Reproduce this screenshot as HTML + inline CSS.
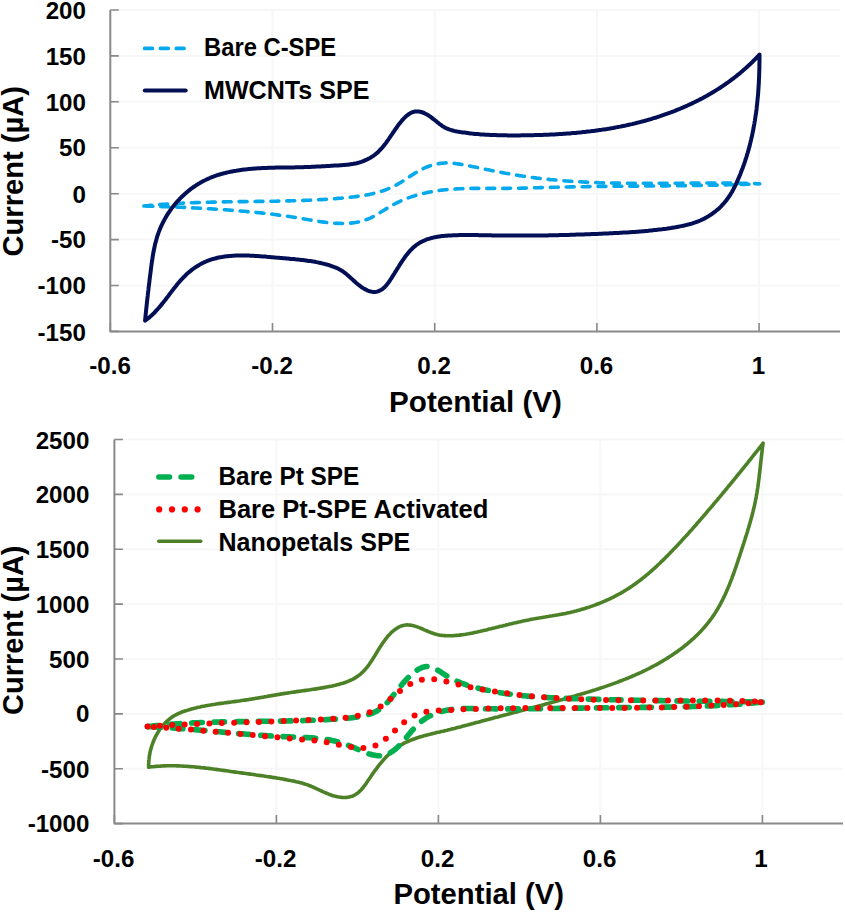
<!DOCTYPE html>
<html><head><meta charset="utf-8"><title>CV plots</title>
<style>
html,body{margin:0;padding:0;background:#fff;}
body{width:845px;height:912px;overflow:hidden;font-family:"Liberation Sans",sans-serif;}
svg{display:block;}
</style></head><body>
<svg width="845" height="912" viewBox="0 0 845 912"><g stroke="#f7f7f7" stroke-width="2"><line x1="111.3" y1="10.0" x2="840.0" y2="10.0"/><line x1="111.3" y1="55.9" x2="840.0" y2="55.9"/><line x1="111.3" y1="101.8" x2="840.0" y2="101.8"/><line x1="111.3" y1="147.7" x2="840.0" y2="147.7"/><line x1="111.3" y1="193.7" x2="840.0" y2="193.7"/><line x1="111.3" y1="239.6" x2="840.0" y2="239.6"/><line x1="111.3" y1="285.5" x2="840.0" y2="285.5"/><line x1="272.5" y1="10.0" x2="272.5" y2="330.4"/><line x1="434.7" y1="10.0" x2="434.7" y2="330.4"/><line x1="596.9" y1="10.0" x2="596.9" y2="330.4"/><line x1="759.1" y1="10.0" x2="759.1" y2="330.4"/></g>
<path d="M110.3,10.0H118.8 M110.3,55.9H118.8 M110.3,101.8H118.8 M110.3,147.7H118.8 M110.3,193.7H118.8 M110.3,239.6H118.8 M110.3,285.5H118.8 M110.3,331.4H118.8 M110.3,331.4V322.9 M272.5,331.4V322.9 M434.7,331.4V322.9 M596.9,331.4V322.9 M759.1,331.4V322.9" fill="none" stroke="#898989" stroke-width="1.6"/>
<path d="M110.3,10.0V331.4H840.0" fill="none" stroke="#898989" stroke-width="2" stroke-linejoin="round"/>
<g stroke="#f7f7f7" stroke-width="2"><line x1="115.4" y1="439.5" x2="843.0" y2="439.5"/><line x1="115.4" y1="494.4" x2="843.0" y2="494.4"/><line x1="115.4" y1="549.2" x2="843.0" y2="549.2"/><line x1="115.4" y1="604.1" x2="843.0" y2="604.1"/><line x1="115.4" y1="659.0" x2="843.0" y2="659.0"/><line x1="115.4" y1="713.9" x2="843.0" y2="713.9"/><line x1="115.4" y1="768.7" x2="843.0" y2="768.7"/><line x1="276.4" y1="439.5" x2="276.4" y2="822.6"/><line x1="438.4" y1="439.5" x2="438.4" y2="822.6"/><line x1="600.4" y1="439.5" x2="600.4" y2="822.6"/><line x1="762.4" y1="439.5" x2="762.4" y2="822.6"/></g>
<path d="M114.4,439.5H122.9 M114.4,494.4H122.9 M114.4,549.2H122.9 M114.4,604.1H122.9 M114.4,659.0H122.9 M114.4,713.9H122.9 M114.4,768.7H122.9 M114.4,823.6H122.9 M114.4,823.6V815.1 M276.4,823.6V815.1 M438.4,823.6V815.1 M600.4,823.6V815.1 M762.4,823.6V815.1" fill="none" stroke="#898989" stroke-width="1.6"/>
<path d="M114.4,439.5V823.6H843.0" fill="none" stroke="#898989" stroke-width="2" stroke-linejoin="round"/>
<path d="M143.9,206.0 145.4,205.8 146.9,205.7 148.4,205.6 149.9,205.4 151.4,205.3 152.9,205.1 154.4,205.0 155.9,204.9 157.4,204.8 158.9,204.6 160.3,204.5 161.8,204.4 163.3,204.3 164.8,204.2 166.3,204.1 167.8,204.0 169.3,203.9 170.8,203.8 172.3,203.7 173.8,203.6 175.3,203.5 176.9,203.4 178.4,203.4 179.9,203.3 181.4,203.2 182.9,203.1 184.4,203.1 185.9,203.0 187.4,202.9 188.9,202.9 190.4,202.8 191.9,202.7 193.4,202.7 194.9,202.6 196.4,202.6 197.9,202.5 199.4,202.5 200.9,202.4 202.4,202.4 203.9,202.3 205.4,202.3 206.9,202.2 208.5,202.2 210.0,202.2 211.5,202.1 213.0,202.1 214.5,202.1 216.0,202.0 217.5,202.0 219.0,202.0 220.5,201.9 222.0,201.9 223.5,201.9 225.0,201.9 226.5,201.8 228.0,201.8 229.6,201.8 231.1,201.8 232.6,201.7 234.1,201.7 235.6,201.7 237.1,201.7 238.6,201.7 240.1,201.6 241.6,201.6 243.1,201.6 244.6,201.6 246.1,201.6 247.6,201.5 249.1,201.5 250.6,201.5 252.2,201.5 253.7,201.5 255.2,201.5 256.7,201.4 258.2,201.4 259.7,201.4 261.2,201.4 262.7,201.4 264.2,201.3 265.7,201.3 267.2,201.3 268.7,201.3 270.2,201.3 271.7,201.2 273.2,201.2 274.7,201.2 276.2,201.2 277.7,201.1 279.3,201.1 280.8,201.1 282.3,201.0 283.8,201.0 285.3,201.0 286.8,200.9 288.3,200.9 289.8,200.9 291.3,200.8 292.8,200.8 294.3,200.7 295.8,200.7 297.3,200.6 298.8,200.6 300.3,200.5 301.8,200.5 303.3,200.4 304.8,200.4 306.3,200.3 307.9,200.2 309.4,200.2 310.9,200.1 312.4,200.0 313.9,200.0 315.4,199.9 316.9,199.8 318.4,199.7 319.9,199.6 321.4,199.6 322.9,199.5 324.4,199.4 325.9,199.3 327.4,199.2 328.9,199.1 330.4,199.0 331.9,198.9 333.4,198.8 334.9,198.7 336.5,198.5 338.0,198.4 339.5,198.3 341.0,198.2 342.5,198.0 344.0,197.9 345.5,197.7 347.0,197.6 348.5,197.5 350.0,197.3 351.5,197.1 353.0,197.0 354.5,196.8 356.0,196.6 357.5,196.4 359.0,196.2 360.5,196.0 362.0,195.7 363.5,195.5 364.9,195.3 366.4,195.0 367.9,194.7 369.4,194.4 370.8,194.1 372.3,193.8 373.7,193.4 375.2,193.1 376.6,192.7 378.1,192.3 379.5,191.9 380.9,191.4 382.3,191.0 383.8,190.5 385.2,190.0 386.6,189.4 387.9,188.9 389.3,188.3 390.7,187.7 392.1,187.1 393.4,186.4 394.8,185.8 396.1,185.1 397.4,184.3 398.7,183.6 400.1,182.8 401.4,182.0 402.7,181.2 404.0,180.3 405.2,179.5 406.5,178.7 407.8,177.8 409.1,177.0 410.4,176.1 411.7,175.3 413.0,174.4 414.3,173.6 415.6,172.8 416.9,172.0 418.2,171.3 419.5,170.5 420.8,169.8 422.2,169.1 423.5,168.5 424.9,167.8 426.2,167.2 427.6,166.7 429.0,166.2 430.4,165.7 431.8,165.2 433.2,164.8 434.6,164.5 436.0,164.1 437.5,163.8 438.9,163.6 440.4,163.4 441.8,163.2 443.3,163.1 444.7,163.0 446.2,162.9 447.7,162.9 449.2,163.0 450.6,163.1 452.1,163.2 453.6,163.3 455.1,163.5 456.6,163.7 458.1,163.9 459.6,164.1 461.1,164.4 462.6,164.6 464.1,164.9 465.6,165.2 467.1,165.5 468.6,165.8 470.1,166.1 471.6,166.4 473.1,166.7 474.6,167.0 476.1,167.3 477.6,167.6 479.1,167.9 480.6,168.2 482.1,168.6 483.6,168.9 485.0,169.2 486.5,169.5 488.0,169.8 489.5,170.1 491.0,170.4 492.5,170.7 494.0,171.0 495.4,171.3 496.9,171.6 498.4,171.8 499.9,172.1 501.4,172.4 502.9,172.7 504.3,173.0 505.8,173.3 507.3,173.5 508.8,173.8 510.3,174.1 511.7,174.3 513.2,174.6 514.7,174.8 516.2,175.1 517.7,175.3 519.2,175.6 520.6,175.8 522.1,176.0 523.6,176.2 525.1,176.5 526.6,176.7 528.1,176.9 529.6,177.1 531.1,177.3 532.6,177.5 534.0,177.7 535.5,177.9 537.0,178.1 538.5,178.2 540.0,178.4 541.5,178.6 543.0,178.8 544.5,178.9 546.0,179.1 547.5,179.2 549.0,179.4 550.5,179.6 552.0,179.7 553.4,179.8 554.9,180.0 556.4,180.1 557.9,180.2 559.4,180.4 560.9,180.5 562.4,180.6 563.9,180.7 565.4,180.9 566.9,181.0 568.4,181.1 569.9,181.2 571.4,181.3 572.9,181.4 574.4,181.5 575.9,181.6 577.4,181.7 578.9,181.7 580.4,181.8 581.9,181.9 583.4,182.0 584.9,182.1 586.4,182.1 587.9,182.2 589.4,182.3 590.9,182.3 592.4,182.4 594.0,182.5 595.5,182.5 597.0,182.6 598.5,182.6 600.0,182.7 601.5,182.7 603.0,182.8 604.5,182.8 606.0,182.8 607.5,182.9 609.0,182.9 610.5,183.0 612.0,183.0 613.5,183.0 615.0,183.1 616.5,183.1 618.0,183.1 619.6,183.1 621.1,183.2 622.6,183.2 624.1,183.2 625.6,183.2 627.1,183.2 628.6,183.2 630.1,183.3 631.6,183.3 633.1,183.3 634.6,183.3 636.1,183.3 637.6,183.3 639.2,183.3 640.7,183.3 642.2,183.3 643.7,183.3 645.2,183.3 646.7,183.3 648.2,183.3 649.7,183.3 651.2,183.3 652.7,183.3 654.3,183.3 655.8,183.3 657.3,183.3 658.8,183.3 660.3,183.3 661.8,183.3 663.3,183.3 664.8,183.3 666.3,183.2 667.8,183.2 669.3,183.2 670.9,183.2 672.4,183.2 673.9,183.2 675.4,183.2 676.9,183.2 678.4,183.2 679.9,183.2 681.4,183.2 682.9,183.1 684.4,183.1 685.9,183.1 687.5,183.1 689.0,183.1 690.5,183.1 692.0,183.1 693.5,183.1 695.0,183.1 696.5,183.1 698.0,183.1 699.5,183.1 701.0,183.0 702.5,183.0 704.1,183.0 705.6,183.0 707.1,183.0 708.6,183.0 710.1,183.0 711.6,183.0 713.1,183.0 714.6,183.0 716.1,183.0 717.6,183.0 719.1,183.1 720.6,183.1 722.1,183.1 723.6,183.1 725.1,183.1 726.7,183.1 728.2,183.1 729.7,183.1 731.2,183.1 732.7,183.2 734.2,183.2 735.7,183.2 737.2,183.2 738.7,183.2 740.2,183.3 741.7,183.3 743.2,183.3 744.7,183.4 746.2,183.4 747.7,183.4 749.2,183.5 750.7,183.5 752.2,183.6 753.7,183.6 755.2,183.6 756.7,183.7 758.2,183.7 759.7,183.8 L759.7,183.8 758.2,183.9 756.7,183.9 755.2,184.0 753.7,184.0 752.2,184.1 750.7,184.1 749.2,184.2 747.7,184.3 746.2,184.3 744.7,184.4 743.2,184.4 741.6,184.4 740.1,184.5 738.6,184.5 737.1,184.6 735.6,184.6 734.1,184.7 732.6,184.7 731.1,184.8 729.6,184.8 728.1,184.8 726.6,184.9 725.1,184.9 723.6,185.0 722.1,185.0 720.6,185.0 719.1,185.1 717.6,185.1 716.1,185.1 714.5,185.2 713.0,185.2 711.5,185.2 710.0,185.2 708.5,185.3 707.0,185.3 705.5,185.3 704.0,185.4 702.5,185.4 701.0,185.4 699.5,185.4 698.0,185.5 696.5,185.5 695.0,185.5 693.5,185.5 692.0,185.5 690.4,185.6 688.9,185.6 687.4,185.6 685.9,185.6 684.4,185.7 682.9,185.7 681.4,185.7 679.9,185.7 678.4,185.7 676.9,185.7 675.4,185.8 673.9,185.8 672.4,185.8 670.9,185.8 669.4,185.8 667.8,185.8 666.3,185.9 664.8,185.9 663.3,185.9 661.8,185.9 660.3,185.9 658.8,185.9 657.3,185.9 655.8,186.0 654.3,186.0 652.8,186.0 651.3,186.0 649.8,186.0 648.3,186.0 646.7,186.0 645.2,186.0 643.7,186.1 642.2,186.1 640.7,186.1 639.2,186.1 637.7,186.1 636.2,186.1 634.7,186.1 633.2,186.1 631.7,186.2 630.2,186.2 628.7,186.2 627.2,186.2 625.7,186.2 624.1,186.2 622.6,186.2 621.1,186.3 619.6,186.3 618.1,186.3 616.6,186.3 615.1,186.3 613.6,186.3 612.1,186.3 610.6,186.4 609.1,186.4 607.6,186.4 606.1,186.4 604.6,186.4 603.1,186.4 601.6,186.5 600.0,186.5 598.5,186.5 597.0,186.5 595.5,186.5 594.0,186.5 592.5,186.6 591.0,186.6 589.5,186.6 588.0,186.6 586.5,186.6 585.0,186.7 583.5,186.7 582.0,186.7 580.5,186.7 579.0,186.8 577.5,186.8 576.0,186.8 574.5,186.8 572.9,186.9 571.4,186.9 569.9,186.9 568.4,187.0 566.9,187.0 565.4,187.0 563.9,187.0 562.4,187.1 560.9,187.1 559.4,187.1 557.9,187.2 556.4,187.2 554.9,187.2 553.4,187.3 551.9,187.3 550.4,187.4 548.9,187.4 547.4,187.4 545.9,187.5 544.4,187.5 542.9,187.6 541.4,187.6 539.9,187.6 538.4,187.7 536.8,187.7 535.3,187.8 533.8,187.8 532.3,187.9 530.8,187.9 529.3,187.9 527.8,188.0 526.3,188.0 524.8,188.1 523.3,188.1 521.8,188.1 520.3,188.2 518.8,188.2 517.3,188.2 515.8,188.2 514.3,188.3 512.8,188.3 511.3,188.3 509.8,188.3 508.2,188.4 506.7,188.4 505.2,188.4 503.7,188.4 502.2,188.4 500.7,188.4 499.2,188.4 497.7,188.4 496.2,188.4 494.6,188.4 493.1,188.4 491.6,188.4 490.1,188.4 488.6,188.4 487.1,188.4 485.6,188.4 484.1,188.4 482.5,188.4 481.0,188.4 479.5,188.4 478.0,188.4 476.5,188.4 475.0,188.4 473.5,188.4 471.9,188.4 470.4,188.4 468.9,188.5 467.4,188.5 465.9,188.5 464.4,188.6 462.9,188.6 461.4,188.7 459.9,188.7 458.4,188.8 456.9,188.9 455.4,189.0 453.8,189.1 452.3,189.2 450.8,189.3 449.3,189.4 447.8,189.5 446.3,189.7 444.9,189.8 443.4,190.0 441.9,190.1 440.4,190.3 438.9,190.5 437.4,190.7 435.9,191.0 434.4,191.2 432.9,191.4 431.5,191.7 430.0,192.0 428.5,192.3 427.1,192.6 425.6,192.9 424.1,193.2 422.7,193.6 421.2,193.9 419.8,194.3 418.3,194.7 416.9,195.1 415.4,195.5 414.0,196.0 412.6,196.4 411.2,196.9 409.7,197.4 408.3,197.9 406.9,198.4 405.5,199.0 404.1,199.5 402.8,200.1 401.4,200.7 400.0,201.3 398.6,202.0 397.3,202.6 395.9,203.3 394.6,204.0 393.2,204.7 391.9,205.4 390.6,206.2 389.3,207.0 387.9,207.8 386.6,208.6 385.3,209.4 384.0,210.2 382.7,211.0 381.4,211.8 380.1,212.6 378.8,213.4 377.5,214.2 376.2,215.0 374.9,215.7 373.5,216.4 372.2,217.1 370.9,217.8 369.5,218.4 368.1,219.0 366.7,219.5 365.3,220.0 363.9,220.5 362.5,220.9 361.1,221.3 359.6,221.7 358.2,222.0 356.7,222.3 355.2,222.5 353.8,222.7 352.3,222.9 350.8,223.1 349.3,223.2 347.8,223.3 346.4,223.4 344.9,223.4 343.4,223.5 341.9,223.5 340.4,223.4 338.9,223.4 337.4,223.4 335.9,223.3 334.4,223.2 332.9,223.1 331.4,222.9 329.9,222.8 328.4,222.7 326.9,222.5 325.4,222.3 323.9,222.1 322.4,221.9 320.9,221.7 319.4,221.5 317.9,221.2 316.4,221.0 314.9,220.8 313.4,220.5 311.9,220.3 310.4,220.0 308.9,219.7 307.4,219.5 305.9,219.2 304.4,219.0 302.9,218.7 301.4,218.4 299.9,218.2 298.4,217.9 296.9,217.7 295.4,217.5 293.9,217.2 292.4,217.0 290.9,216.8 289.4,216.5 287.9,216.3 286.4,216.1 285.0,215.9 283.5,215.7 282.0,215.5 280.5,215.3 279.0,215.1 277.5,214.9 276.0,214.7 274.5,214.5 273.0,214.3 271.5,214.1 270.0,214.0 268.5,213.8 267.0,213.6 265.5,213.4 264.1,213.3 262.6,213.1 261.1,212.9 259.6,212.8 258.1,212.6 256.6,212.5 255.1,212.3 253.6,212.2 252.1,212.0 250.6,211.9 249.1,211.8 247.6,211.6 246.1,211.5 244.6,211.3 243.2,211.2 241.7,211.1 240.2,211.0 238.7,210.8 237.2,210.7 235.7,210.6 234.2,210.5 232.7,210.4 231.2,210.2 229.7,210.1 228.2,210.0 226.7,209.9 225.2,209.8 223.7,209.7 222.2,209.6 220.7,209.5 219.2,209.4 217.7,209.3 216.2,209.2 214.7,209.1 213.2,209.0 211.7,208.9 210.1,208.8 208.6,208.7 207.1,208.6 205.6,208.5 204.1,208.4 202.6,208.4 201.1,208.3 199.6,208.2 198.1,208.1 196.6,208.0 195.1,208.0 193.6,207.9 192.1,207.8 190.6,207.7 189.1,207.7 187.6,207.6 186.0,207.5 184.5,207.4 183.0,207.4 181.5,207.3 180.0,207.2 178.5,207.2 177.0,207.1 175.5,207.1 174.0,207.0 172.5,206.9 171.0,206.9 169.5,206.8 168.0,206.8 166.5,206.7 165.0,206.7 163.4,206.6 161.9,206.6 160.4,206.5 158.9,206.5 157.4,206.4 155.9,206.4 154.4,206.3 152.9,206.3 151.4,206.2 149.9,206.2 148.4,206.1 146.9,206.1 145.4,206.0 143.9,206.0" fill="none" stroke="#05a9ec" stroke-width="3.6" stroke-linecap="round" stroke-linejoin="round" stroke-dasharray="7.9 8.0"/>
<path d="M145.1,320.6 145.2,319.1 145.4,317.6 145.5,316.1 145.7,314.6 145.8,313.1 146.0,311.6 146.1,310.1 146.3,308.6 146.5,307.1 146.6,305.6 146.8,304.1 146.9,302.6 147.1,301.1 147.3,299.6 147.4,298.1 147.6,296.7 147.8,295.2 147.9,293.7 148.1,292.2 148.3,290.7 148.5,289.2 148.6,287.7 148.8,286.2 149.0,284.8 149.2,283.3 149.4,281.8 149.5,280.3 149.7,278.8 149.9,277.3 150.1,275.8 150.3,274.3 150.5,272.8 150.7,271.4 150.8,269.9 151.0,268.4 151.2,266.9 151.4,265.4 151.6,263.9 151.8,262.4 152.1,260.9 152.3,259.4 152.5,257.9 152.7,256.4 153.0,254.9 153.2,253.4 153.5,252.0 153.8,250.5 154.1,249.0 154.4,247.5 154.7,246.1 155.0,244.6 155.4,243.1 155.8,241.7 156.2,240.2 156.6,238.8 157.0,237.3 157.4,235.9 157.9,234.5 158.4,233.1 158.9,231.7 159.5,230.3 160.0,228.9 160.6,227.5 161.2,226.1 161.9,224.7 162.5,223.4 163.2,222.0 163.9,220.7 164.6,219.3 165.4,218.0 166.1,216.7 166.9,215.4 167.7,214.1 168.5,212.9 169.4,211.6 170.3,210.3 171.1,209.1 172.0,207.9 173.0,206.7 173.9,205.5 174.9,204.3 175.8,203.2 176.8,202.0 177.8,200.9 178.9,199.8 179.9,198.7 181.0,197.6 182.1,196.5 183.2,195.5 184.3,194.5 185.4,193.5 186.5,192.5 187.7,191.5 188.8,190.6 190.0,189.6 191.2,188.7 192.4,187.8 193.6,187.0 194.9,186.1 196.1,185.3 197.4,184.5 198.6,183.7 199.9,183.0 201.2,182.2 202.5,181.5 203.8,180.8 205.1,180.2 206.5,179.5 207.8,178.9 209.2,178.3 210.5,177.7 211.9,177.2 213.3,176.7 214.6,176.2 216.0,175.7 217.4,175.2 218.8,174.7 220.3,174.3 221.7,173.9 223.1,173.5 224.6,173.1 226.0,172.8 227.5,172.4 228.9,172.1 230.4,171.8 231.9,171.5 233.3,171.2 234.8,170.9 236.3,170.7 237.8,170.4 239.3,170.2 240.8,170.0 242.3,169.8 243.8,169.6 245.3,169.4 246.8,169.2 248.3,169.1 249.9,168.9 251.4,168.8 252.9,168.7 254.4,168.5 256.0,168.4 257.5,168.3 259.0,168.2 260.6,168.2 262.1,168.1 263.6,168.0 265.2,167.9 266.7,167.9 268.3,167.8 269.8,167.8 271.3,167.7 272.9,167.7 274.4,167.7 275.9,167.6 277.5,167.6 279.0,167.6 280.5,167.6 282.1,167.5 283.6,167.5 285.1,167.5 286.6,167.5 288.2,167.4 289.7,167.4 291.2,167.4 292.7,167.4 294.2,167.4 295.7,167.3 297.2,167.3 298.7,167.3 300.2,167.2 301.7,167.2 303.1,167.2 304.6,167.1 306.1,167.1 307.5,167.0 309.0,167.0 310.5,166.9 311.9,166.8 313.4,166.8 314.8,166.7 316.3,166.6 317.8,166.6 319.2,166.5 320.7,166.4 322.1,166.3 323.6,166.3 325.1,166.2 326.5,166.1 328.0,166.0 329.5,165.9 330.9,165.8 332.4,165.7 333.9,165.6 335.4,165.6 336.9,165.5 338.4,165.4 339.9,165.3 341.4,165.2 343.0,165.1 344.5,165.0 346.0,164.8 347.6,164.7 349.1,164.5 350.6,164.3 352.2,164.1 353.7,163.8 355.2,163.5 356.7,163.2 358.2,162.8 359.7,162.3 361.1,161.9 362.6,161.4 364.0,160.8 365.4,160.2 366.8,159.6 368.1,158.9 369.5,158.2 370.8,157.5 372.0,156.7 373.3,155.9 374.5,155.0 375.6,154.1 376.8,153.2 377.9,152.2 378.9,151.2 379.9,150.1 381.0,149.1 381.9,148.0 382.9,146.9 383.8,145.7 384.7,144.5 385.6,143.4 386.5,142.2 387.4,140.9 388.3,139.7 389.1,138.5 390.0,137.2 390.8,135.9 391.7,134.7 392.6,133.4 393.4,132.1 394.3,130.8 395.2,129.5 396.1,128.3 397.0,127.0 397.9,125.7 398.8,124.4 399.8,123.2 400.8,122.0 401.8,120.7 402.8,119.6 403.9,118.4 405.0,117.3 406.1,116.3 407.2,115.4 408.3,114.5 409.5,113.7 410.7,113.0 412.0,112.4 413.2,112.0 414.5,111.6 415.8,111.4 417.2,111.4 418.5,111.4 419.9,111.7 421.3,112.0 422.7,112.5 424.1,113.0 425.4,113.7 426.8,114.4 428.1,115.2 429.4,116.0 430.6,116.9 431.9,117.9 433.1,118.9 434.4,119.8 435.6,120.8 436.8,121.8 438.1,122.8 439.3,123.8 440.6,124.7 441.8,125.6 443.1,126.5 444.4,127.2 445.7,128.0 447.1,128.6 448.5,129.2 449.9,129.7 451.3,130.1 452.7,130.5 454.2,130.9 455.6,131.2 457.1,131.5 458.6,131.7 460.1,132.0 461.5,132.2 463.0,132.4 464.5,132.6 466.0,132.8 467.5,133.0 469.0,133.2 470.4,133.4 471.9,133.6 473.4,133.7 474.9,133.9 476.4,134.0 477.9,134.1 479.4,134.2 480.9,134.4 482.4,134.5 483.9,134.6 485.4,134.7 486.9,134.7 488.4,134.8 489.9,134.9 491.4,135.0 492.9,135.0 494.4,135.1 495.9,135.1 497.4,135.2 498.9,135.2 500.4,135.3 501.9,135.3 503.4,135.3 504.9,135.3 506.4,135.3 507.9,135.4 509.4,135.4 510.9,135.4 512.4,135.4 513.9,135.4 515.4,135.4 516.9,135.4 518.4,135.4 519.9,135.4 521.4,135.3 522.9,135.3 524.5,135.3 526.0,135.3 527.5,135.3 529.0,135.2 530.5,135.2 532.0,135.2 533.5,135.2 535.0,135.1 536.5,135.1 538.0,135.0 539.5,135.0 541.0,134.9 542.6,134.9 544.1,134.8 545.6,134.8 547.1,134.7 548.6,134.7 550.1,134.6 551.6,134.5 553.1,134.4 554.6,134.4 556.1,134.3 557.6,134.2 559.1,134.1 560.6,134.0 562.1,133.9 563.6,133.8 565.2,133.7 566.7,133.6 568.2,133.5 569.7,133.4 571.2,133.2 572.7,133.1 574.2,133.0 575.7,132.9 577.2,132.7 578.7,132.6 580.2,132.4 581.7,132.3 583.2,132.1 584.7,132.0 586.1,131.8 587.6,131.6 589.1,131.4 590.6,131.3 592.1,131.1 593.6,130.9 595.1,130.7 596.6,130.5 598.1,130.3 599.6,130.1 601.1,129.9 602.5,129.6 604.0,129.4 605.5,129.2 607.0,129.0 608.5,128.7 610.0,128.5 611.4,128.2 612.9,128.0 614.4,127.7 615.9,127.4 617.3,127.1 618.8,126.9 620.3,126.6 621.8,126.3 623.2,126.0 624.7,125.7 626.2,125.4 627.6,125.0 629.1,124.7 630.5,124.4 632.0,124.1 633.5,123.7 634.9,123.4 636.4,123.0 637.8,122.6 639.3,122.3 640.7,121.9 642.2,121.5 643.6,121.1 645.1,120.7 646.5,120.3 648.0,119.9 649.4,119.5 650.9,119.1 652.3,118.6 653.7,118.2 655.2,117.8 656.6,117.3 658.0,116.8 659.5,116.4 660.9,115.9 662.3,115.4 663.7,114.9 665.1,114.4 666.6,113.9 668.0,113.4 669.4,112.9 670.8,112.4 672.2,111.8 673.6,111.3 675.0,110.8 676.4,110.2 677.8,109.6 679.2,109.1 680.6,108.5 682.0,107.9 683.4,107.3 684.8,106.7 686.1,106.1 687.5,105.5 688.9,104.8 690.3,104.2 691.6,103.6 693.0,102.9 694.3,102.3 695.7,101.6 697.0,100.9 698.4,100.3 699.7,99.6 701.1,98.9 702.4,98.2 703.7,97.5 705.0,96.7 706.4,96.0 707.7,95.3 709.0,94.5 710.3,93.8 711.6,93.0 712.9,92.2 714.2,91.5 715.4,90.7 716.7,89.9 718.0,89.1 719.3,88.3 720.5,87.5 721.8,86.6 723.0,85.8 724.3,85.0 725.5,84.1 726.7,83.2 728.0,82.4 729.2,81.5 730.4,80.6 731.6,79.7 732.8,78.8 734.0,77.9 735.2,77.0 736.4,76.1 737.5,75.1 738.7,74.2 739.9,73.2 741.0,72.3 742.2,71.3 743.3,70.3 744.4,69.3 745.6,68.3 746.7,67.3 747.8,66.3 748.9,65.3 750.0,64.3 751.1,63.2 752.2,62.2 753.2,61.1 754.3,60.1 755.4,59.0 756.4,57.9 757.4,56.8 758.5,55.7 759.5,54.6 L759.5,54.6 759.5,56.1 759.5,57.6 759.5,59.1 759.5,60.6 759.5,62.1 759.4,63.7 759.4,65.2 759.4,66.7 759.4,68.2 759.3,69.7 759.3,71.2 759.2,72.7 759.2,74.2 759.1,75.7 759.1,77.2 759.0,78.7 758.9,80.2 758.9,81.8 758.8,83.3 758.7,84.8 758.6,86.3 758.5,87.8 758.4,89.3 758.3,90.8 758.2,92.3 758.1,93.8 758.0,95.3 757.8,96.8 757.7,98.3 757.5,99.8 757.4,101.3 757.2,102.8 757.1,104.3 756.9,105.8 756.7,107.2 756.6,108.7 756.4,110.2 756.2,111.7 756.0,113.2 755.8,114.7 755.5,116.2 755.3,117.7 755.1,119.1 754.9,120.6 754.6,122.1 754.4,123.6 754.1,125.1 753.8,126.5 753.6,128.0 753.3,129.5 753.0,131.0 752.7,132.4 752.4,133.9 752.1,135.4 751.8,136.8 751.4,138.3 751.1,139.7 750.7,141.2 750.4,142.7 750.0,144.1 749.7,145.6 749.3,147.0 748.9,148.5 748.5,149.9 748.1,151.4 747.7,152.8 747.2,154.2 746.8,155.7 746.4,157.1 745.9,158.5 745.4,160.0 745.0,161.4 744.5,162.8 744.0,164.3 743.5,165.7 743.0,167.1 742.5,168.5 741.9,169.9 741.4,171.3 740.8,172.8 740.3,174.2 739.7,175.6 739.1,177.0 738.5,178.4 737.9,179.8 737.3,181.2 736.7,182.5 736.1,183.9 735.4,185.3 734.7,186.7 734.0,188.0 733.3,189.4 732.6,190.7 731.9,192.0 731.1,193.3 730.3,194.6 729.5,195.8 728.7,197.1 727.8,198.3 726.9,199.5 726.0,200.7 725.1,201.9 724.1,203.0 723.1,204.1 722.1,205.2 721.1,206.3 720.0,207.4 718.9,208.4 717.8,209.4 716.7,210.3 715.5,211.3 714.3,212.2 713.1,213.1 711.9,214.0 710.7,214.8 709.4,215.6 708.2,216.4 706.9,217.1 705.6,217.9 704.2,218.6 702.9,219.2 701.5,219.9 700.2,220.5 698.8,221.1 697.4,221.6 696.0,222.1 694.6,222.6 693.1,223.1 691.7,223.6 690.2,224.0 688.8,224.4 687.3,224.8 685.8,225.1 684.4,225.5 682.9,225.8 681.4,226.1 679.9,226.4 678.4,226.7 676.9,227.0 675.4,227.3 673.9,227.5 672.4,227.7 670.9,228.0 669.4,228.2 667.9,228.4 666.4,228.7 664.9,228.9 663.4,229.1 661.9,229.3 660.4,229.4 658.9,229.6 657.4,229.8 655.9,230.0 654.4,230.1 653.0,230.3 651.5,230.5 650.0,230.6 648.5,230.8 647.0,230.9 645.5,231.0 644.0,231.2 642.5,231.3 641.0,231.4 639.5,231.5 638.0,231.7 636.5,231.8 635.1,231.9 633.6,232.0 632.1,232.1 630.6,232.2 629.1,232.3 627.6,232.4 626.1,232.5 624.6,232.5 623.1,232.6 621.6,232.7 620.1,232.8 618.6,232.9 617.1,233.0 615.6,233.0 614.1,233.1 612.6,233.2 611.1,233.2 609.6,233.3 608.1,233.4 606.6,233.5 605.1,233.5 603.6,233.6 602.1,233.7 600.6,233.7 599.1,233.8 597.6,233.9 596.1,233.9 594.6,234.0 593.1,234.0 591.6,234.1 590.0,234.2 588.5,234.2 587.0,234.3 585.5,234.3 584.0,234.4 582.5,234.4 581.0,234.5 579.5,234.5 577.9,234.6 576.4,234.6 574.9,234.7 573.4,234.7 571.9,234.8 570.4,234.8 568.9,234.9 567.3,234.9 565.8,235.0 564.3,235.0 562.8,235.0 561.3,235.1 559.8,235.1 558.3,235.2 556.7,235.2 555.2,235.2 553.7,235.3 552.2,235.3 550.7,235.3 549.2,235.3 547.7,235.4 546.2,235.4 544.6,235.4 543.1,235.4 541.6,235.5 540.1,235.5 538.6,235.5 537.1,235.5 535.6,235.5 534.1,235.6 532.6,235.6 531.1,235.6 529.6,235.6 528.1,235.6 526.6,235.6 525.1,235.6 523.6,235.6 522.0,235.6 520.6,235.6 519.1,235.6 517.6,235.6 516.1,235.6 514.6,235.6 513.1,235.6 511.6,235.6 510.1,235.6 508.6,235.6 507.1,235.6 505.6,235.6 504.1,235.5 502.6,235.5 501.2,235.5 499.7,235.5 498.2,235.5 496.7,235.4 495.2,235.4 493.8,235.4 492.3,235.4 490.8,235.3 489.3,235.3 487.9,235.3 486.4,235.3 484.9,235.2 483.4,235.2 481.9,235.2 480.4,235.2 479.0,235.2 477.5,235.1 476.0,235.1 474.5,235.1 473.0,235.1 471.5,235.1 470.0,235.1 468.4,235.1 466.9,235.1 465.4,235.1 463.9,235.1 462.3,235.1 460.8,235.1 459.3,235.1 457.7,235.2 456.1,235.2 454.6,235.3 453.0,235.3 451.5,235.4 449.9,235.5 448.4,235.5 446.8,235.7 445.3,235.8 443.7,235.9 442.2,236.1 440.7,236.3 439.1,236.5 437.6,236.7 436.1,237.0 434.7,237.3 433.2,237.6 431.7,238.0 430.3,238.4 428.9,238.8 427.5,239.2 426.1,239.7 424.8,240.3 423.5,240.8 422.2,241.5 420.9,242.1 419.7,242.8 418.4,243.6 417.3,244.4 416.1,245.2 415.0,246.1 413.9,247.0 412.8,248.0 411.8,249.0 410.7,250.1 409.7,251.2 408.7,252.3 407.8,253.4 406.8,254.6 405.9,255.8 405.0,257.0 404.1,258.3 403.2,259.6 402.3,260.9 401.5,262.2 400.6,263.5 399.7,264.8 398.9,266.2 398.1,267.5 397.2,268.9 396.4,270.2 395.5,271.6 394.7,273.0 393.9,274.3 393.0,275.7 392.2,277.0 391.3,278.4 390.4,279.7 389.6,281.0 388.7,282.3 387.7,283.6 386.8,284.7 385.8,285.9 384.8,287.0 383.8,287.9 382.7,288.8 381.5,289.7 380.3,290.3 379.1,290.9 377.8,291.4 376.5,291.7 375.2,291.9 373.9,292.0 372.5,291.9 371.2,291.6 369.8,291.3 368.5,290.8 367.1,290.3 365.8,289.6 364.4,288.9 363.1,288.1 361.8,287.3 360.6,286.4 359.3,285.4 358.1,284.5 356.9,283.5 355.7,282.5 354.6,281.4 353.4,280.4 352.3,279.3 351.1,278.3 350.0,277.3 348.9,276.3 347.7,275.2 346.6,274.3 345.4,273.3 344.2,272.4 343.0,271.5 341.8,270.7 340.5,269.9 339.2,269.2 337.9,268.5 336.5,267.9 335.1,267.3 333.7,266.8 332.3,266.3 330.9,265.8 329.5,265.3 328.0,264.9 326.6,264.5 325.1,264.1 323.7,263.7 322.2,263.4 320.7,263.0 319.3,262.7 317.8,262.4 316.3,262.1 314.9,261.8 313.4,261.6 311.9,261.3 310.4,261.1 308.9,260.9 307.4,260.7 305.9,260.5 304.4,260.3 302.9,260.1 301.4,259.9 299.9,259.7 298.4,259.6 296.9,259.4 295.4,259.3 293.9,259.1 292.4,259.0 290.9,258.9 289.4,258.7 287.9,258.6 286.4,258.5 284.9,258.3 283.4,258.2 281.9,258.1 280.3,258.0 278.8,257.8 277.3,257.7 275.8,257.6 274.3,257.4 272.8,257.3 271.3,257.2 269.8,257.0 268.4,256.9 266.9,256.8 265.4,256.6 263.9,256.5 262.4,256.4 260.9,256.3 259.4,256.2 257.9,256.1 256.4,256.0 254.9,255.9 253.4,255.8 251.9,255.7 250.4,255.7 248.9,255.6 247.4,255.6 245.9,255.5 244.4,255.5 242.9,255.5 241.4,255.5 239.9,255.5 238.4,255.5 236.9,255.6 235.4,255.6 233.9,255.7 232.3,255.8 230.8,255.9 229.3,256.0 227.8,256.2 226.3,256.3 224.8,256.5 223.3,256.7 221.8,257.0 220.3,257.2 218.9,257.5 217.4,257.8 215.9,258.2 214.5,258.6 213.0,259.0 211.6,259.4 210.2,259.9 208.8,260.4 207.4,260.9 206.0,261.5 204.6,262.1 203.2,262.8 201.9,263.4 200.6,264.1 199.3,264.9 198.0,265.7 196.7,266.5 195.4,267.3 194.2,268.1 193.0,269.0 191.8,269.9 190.6,270.9 189.4,271.8 188.3,272.8 187.1,273.8 186.0,274.8 185.0,275.9 183.9,276.9 182.9,278.0 181.8,279.1 180.8,280.2 179.8,281.3 178.8,282.5 177.9,283.6 176.9,284.8 176.0,286.0 175.0,287.2 174.1,288.3 173.2,289.5 172.2,290.7 171.3,291.9 170.4,293.1 169.5,294.3 168.6,295.6 167.7,296.8 166.7,298.0 165.8,299.2 164.9,300.4 164.0,301.5 163.0,302.7 162.1,303.9 161.1,305.1 160.2,306.2 159.2,307.4 158.2,308.5 157.2,309.6 156.2,310.7 155.2,311.8 154.2,312.9 153.1,313.9 152.0,314.9 150.9,315.9 149.8,316.9 148.7,317.9 147.5,318.8 146.3,319.7 145.1,320.6" fill="none" stroke="#020f55" stroke-width="4" stroke-linecap="round" stroke-linejoin="round"/>
<path d="M148.6,767.2 148.6,765.7 148.7,764.2 148.7,762.7 148.8,761.2 149.0,759.7 149.1,758.2 149.3,756.7 149.6,755.2 149.8,753.7 150.1,752.2 150.4,750.8 150.8,749.3 151.2,747.9 151.6,746.4 152.1,745.0 152.6,743.6 153.1,742.2 153.7,740.8 154.2,739.4 154.9,738.0 155.5,736.6 156.3,735.3 157.0,734.0 157.8,732.6 158.6,731.3 159.4,730.1 160.3,728.8 161.2,727.6 162.1,726.4 163.1,725.2 164.1,724.1 165.2,723.0 166.2,721.9 167.3,720.9 168.5,719.9 169.6,718.9 170.8,718.0 172.1,717.1 173.3,716.3 174.6,715.5 175.9,714.8 177.2,714.1 178.6,713.5 179.9,712.9 181.3,712.3 182.7,711.8 184.2,711.3 185.6,710.8 187.0,710.4 188.5,709.9 189.9,709.5 191.3,709.1 192.8,708.7 194.2,708.3 195.7,708.0 197.2,707.6 198.6,707.3 200.1,707.0 201.6,706.6 203.0,706.3 204.5,706.1 206.0,705.8 207.5,705.5 208.9,705.2 210.4,705.0 211.9,704.7 213.4,704.5 214.9,704.3 216.4,704.0 217.8,703.8 219.3,703.6 220.8,703.4 222.3,703.2 223.8,703.0 225.3,702.8 226.8,702.6 228.3,702.4 229.8,702.2 231.3,702.0 232.8,701.8 234.3,701.6 235.8,701.4 237.3,701.2 238.8,701.0 240.3,700.8 241.8,700.5 243.3,700.3 244.8,700.1 246.3,699.9 247.8,699.7 249.3,699.4 250.8,699.2 252.2,698.9 253.7,698.7 255.2,698.4 256.7,698.2 258.2,697.9 259.7,697.7 261.2,697.4 262.7,697.2 264.2,696.9 265.6,696.7 267.1,696.4 268.6,696.1 270.1,695.9 271.6,695.6 273.1,695.4 274.6,695.1 276.0,694.9 277.5,694.6 279.0,694.4 280.5,694.1 282.0,693.9 283.4,693.6 284.9,693.4 286.4,693.2 287.9,692.9 289.4,692.7 290.8,692.5 292.3,692.3 293.8,692.1 295.3,691.9 296.8,691.6 298.2,691.4 299.7,691.2 301.2,691.0 302.7,690.8 304.2,690.6 305.6,690.4 307.1,690.2 308.6,690.0 310.1,689.8 311.6,689.5 313.1,689.3 314.5,689.1 316.0,688.9 317.5,688.6 319.0,688.4 320.5,688.1 322.0,687.9 323.5,687.6 325.0,687.4 326.5,687.1 328.0,686.8 329.5,686.5 331.0,686.2 332.5,685.9 334.0,685.5 335.5,685.2 337.0,684.8 338.5,684.4 340.0,684.0 341.4,683.6 342.9,683.2 344.3,682.7 345.8,682.2 347.2,681.7 348.6,681.1 349.9,680.5 351.3,679.9 352.6,679.3 353.9,678.6 355.2,677.9 356.4,677.1 357.6,676.3 358.8,675.4 360.0,674.5 361.1,673.6 362.1,672.6 363.2,671.6 364.2,670.6 365.2,669.5 366.1,668.3 367.1,667.2 368.0,666.0 368.9,664.8 369.8,663.5 370.6,662.3 371.5,661.0 372.3,659.7 373.1,658.4 374.0,657.1 374.8,655.8 375.6,654.4 376.4,653.1 377.2,651.8 378.0,650.4 378.8,649.1 379.7,647.8 380.5,646.4 381.4,645.1 382.2,643.8 383.1,642.5 384.0,641.3 384.9,640.0 385.8,638.8 386.8,637.6 387.7,636.4 388.7,635.3 389.8,634.2 390.8,633.1 391.9,632.0 393.0,631.1 394.2,630.1 395.4,629.2 396.6,628.4 397.8,627.7 399.1,627.0 400.3,626.4 401.6,625.9 403.0,625.5 404.3,625.2 405.7,625.0 407.1,624.9 408.5,625.0 409.9,625.1 411.3,625.3 412.7,625.6 414.2,625.9 415.6,626.4 417.1,626.9 418.5,627.4 419.9,627.9 421.4,628.5 422.8,629.1 424.2,629.8 425.7,630.4 427.1,631.0 428.5,631.6 430.0,632.2 431.4,632.8 432.9,633.3 434.3,633.8 435.8,634.2 437.3,634.6 438.7,634.9 440.2,635.2 441.7,635.4 443.2,635.5 444.7,635.6 446.2,635.7 447.7,635.7 449.2,635.7 450.7,635.7 452.2,635.7 453.6,635.6 455.1,635.5 456.6,635.4 458.1,635.3 459.6,635.1 461.1,634.9 462.6,634.7 464.1,634.5 465.6,634.3 467.0,634.0 468.5,633.8 470.0,633.5 471.5,633.2 473.0,632.9 474.5,632.6 475.9,632.3 477.4,632.0 478.9,631.6 480.4,631.3 481.9,630.9 483.3,630.6 484.8,630.2 486.3,629.9 487.8,629.5 489.2,629.1 490.7,628.8 492.2,628.4 493.6,628.0 495.1,627.7 496.6,627.3 498.0,627.0 499.5,626.6 501.0,626.2 502.4,625.9 503.9,625.5 505.4,625.2 506.8,624.8 508.3,624.5 509.7,624.1 511.2,623.8 512.7,623.4 514.1,623.1 515.6,622.8 517.1,622.4 518.5,622.1 520.0,621.8 521.4,621.4 522.9,621.1 524.4,620.8 525.8,620.5 527.3,620.2 528.8,619.9 530.2,619.6 531.7,619.3 533.2,619.0 534.6,618.8 536.1,618.5 537.6,618.2 539.1,618.0 540.5,617.7 542.0,617.5 543.5,617.2 545.0,617.0 546.5,616.7 547.9,616.5 549.4,616.2 550.9,616.0 552.4,615.8 553.9,615.5 555.4,615.3 556.8,615.0 558.3,614.8 559.8,614.5 561.3,614.2 562.8,613.9 564.2,613.7 565.7,613.4 567.2,613.0 568.7,612.7 570.1,612.4 571.6,612.0 573.1,611.7 574.6,611.3 576.0,611.0 577.5,610.6 579.0,610.2 580.4,609.8 581.9,609.3 583.3,608.9 584.8,608.5 586.2,608.0 587.7,607.6 589.1,607.1 590.5,606.6 592.0,606.1 593.4,605.6 594.8,605.1 596.2,604.5 597.7,604.0 599.1,603.5 600.5,602.9 601.9,602.3 603.3,601.7 604.7,601.1 606.0,600.5 607.4,599.9 608.8,599.3 610.2,598.6 611.5,598.0 612.9,597.3 614.2,596.6 615.6,595.9 616.9,595.2 618.2,594.5 619.5,593.8 620.9,593.1 622.2,592.3 623.5,591.6 624.7,590.8 626.0,590.0 627.3,589.2 628.6,588.4 629.8,587.6 631.1,586.8 632.3,585.9 633.5,585.1 634.8,584.2 636.0,583.3 637.2,582.4 638.4,581.5 639.6,580.6 640.8,579.7 642.0,578.8 643.1,577.9 644.3,576.9 645.5,576.0 646.6,575.0 647.8,574.1 648.9,573.1 650.1,572.1 651.2,571.1 652.3,570.1 653.4,569.1 654.6,568.1 655.7,567.1 656.8,566.1 657.9,565.0 659.0,564.0 660.1,563.0 661.1,561.9 662.2,560.9 663.3,559.8 664.4,558.8 665.4,557.7 666.5,556.6 667.6,555.6 668.6,554.5 669.7,553.4 670.7,552.3 671.8,551.2 672.8,550.1 673.9,549.0 674.9,548.0 675.9,546.9 677.0,545.8 678.0,544.7 679.0,543.6 680.0,542.5 681.1,541.4 682.1,540.2 683.1,539.1 684.1,538.0 685.1,536.9 686.2,535.8 687.2,534.7 688.2,533.6 689.2,532.4 690.2,531.3 691.2,530.2 692.2,529.1 693.2,527.9 694.2,526.8 695.2,525.7 696.2,524.6 697.1,523.4 698.1,522.3 699.1,521.2 700.1,520.0 701.1,518.9 702.1,517.7 703.1,516.6 704.0,515.5 705.0,514.3 706.0,513.2 707.0,512.0 707.9,510.9 708.9,509.7 709.9,508.6 710.9,507.5 711.8,506.3 712.8,505.2 713.8,504.0 714.7,502.9 715.7,501.7 716.7,500.6 717.7,499.4 718.6,498.2 719.6,497.1 720.6,495.9 721.5,494.8 722.5,493.6 723.4,492.5 724.4,491.3 725.4,490.1 726.3,489.0 727.3,487.8 728.2,486.7 729.2,485.5 730.2,484.3 731.1,483.2 732.1,482.0 733.0,480.8 734.0,479.7 734.9,478.5 735.9,477.3 736.8,476.2 737.8,475.0 738.7,473.8 739.7,472.7 740.6,471.5 741.6,470.3 742.5,469.2 743.5,468.0 744.4,466.8 745.4,465.6 746.3,464.5 747.2,463.3 748.2,462.1 749.1,460.9 750.1,459.8 751.0,458.6 751.9,457.4 752.9,456.2 753.8,455.0 754.7,453.9 755.7,452.7 756.6,451.5 757.5,450.3 758.5,449.1 759.4,447.9 760.3,446.8 761.2,445.6 762.2,444.4 763.1,443.2 L763.1,443.2 762.9,444.7 762.7,446.1 762.5,447.6 762.3,449.1 762.1,450.5 762.0,452.0 761.8,453.5 761.6,455.0 761.4,456.5 761.3,458.0 761.1,459.5 760.9,461.0 760.8,462.5 760.6,464.0 760.4,465.5 760.3,467.0 760.1,468.5 759.9,470.0 759.8,471.5 759.6,473.0 759.4,474.6 759.2,476.1 759.1,477.6 758.9,479.1 758.7,480.6 758.5,482.1 758.3,483.6 758.1,485.1 757.9,486.6 757.7,488.1 757.4,489.6 757.2,491.1 757.0,492.6 756.7,494.1 756.4,495.6 756.2,497.1 755.9,498.5 755.6,500.0 755.3,501.5 755.0,502.9 754.7,504.4 754.4,505.9 754.0,507.3 753.7,508.8 753.3,510.2 753.0,511.7 752.6,513.1 752.3,514.5 751.9,516.0 751.5,517.4 751.1,518.9 750.7,520.3 750.3,521.7 749.9,523.2 749.5,524.6 749.1,526.0 748.7,527.4 748.2,528.9 747.8,530.3 747.4,531.7 746.9,533.2 746.5,534.6 746.0,536.0 745.6,537.4 745.1,538.9 744.7,540.3 744.2,541.7 743.8,543.1 743.3,544.6 742.8,546.0 742.4,547.4 741.9,548.9 741.4,550.3 741.0,551.7 740.5,553.2 740.0,554.6 739.6,556.1 739.1,557.5 738.6,558.9 738.1,560.4 737.7,561.8 737.2,563.3 736.7,564.7 736.2,566.2 735.7,567.6 735.2,569.0 734.7,570.5 734.2,571.9 733.7,573.3 733.2,574.8 732.6,576.2 732.1,577.6 731.6,579.1 731.0,580.5 730.5,581.9 729.9,583.3 729.4,584.7 728.8,586.1 728.2,587.5 727.6,588.9 727.0,590.3 726.4,591.7 725.8,593.1 725.2,594.5 724.5,595.8 723.9,597.2 723.2,598.5 722.6,599.9 721.9,601.2 721.2,602.5 720.5,603.9 719.8,605.2 719.0,606.5 718.3,607.8 717.5,609.1 716.8,610.3 716.0,611.6 715.2,612.9 714.4,614.1 713.6,615.4 712.7,616.6 711.9,617.8 711.0,619.0 710.1,620.2 709.2,621.4 708.3,622.6 707.3,623.7 706.4,624.9 705.4,626.0 704.5,627.1 703.5,628.3 702.5,629.4 701.5,630.5 700.5,631.6 699.4,632.6 698.4,633.7 697.3,634.8 696.2,635.8 695.2,636.8 694.1,637.9 693.0,638.9 691.8,639.9 690.7,640.9 689.6,641.9 688.4,642.8 687.3,643.8 686.1,644.8 684.9,645.7 683.8,646.6 682.6,647.6 681.4,648.5 680.2,649.4 678.9,650.3 677.7,651.2 676.5,652.1 675.2,652.9 674.0,653.8 672.8,654.6 671.5,655.5 670.2,656.3 669.0,657.1 667.7,657.9 666.4,658.7 665.1,659.5 663.8,660.3 662.5,661.1 661.2,661.8 659.9,662.6 658.6,663.3 657.3,664.1 656.0,664.8 654.7,665.5 653.3,666.2 652.0,666.9 650.7,667.6 649.3,668.3 648.0,669.0 646.6,669.7 645.3,670.3 643.9,671.0 642.6,671.6 641.2,672.3 639.9,672.9 638.5,673.5 637.1,674.1 635.8,674.7 634.4,675.3 633.0,675.9 631.7,676.5 630.3,677.1 628.9,677.7 627.5,678.3 626.1,678.8 624.7,679.4 623.3,679.9 621.9,680.5 620.5,681.0 619.1,681.5 617.7,682.1 616.3,682.6 614.9,683.1 613.5,683.6 612.1,684.1 610.7,684.6 609.3,685.1 607.8,685.6 606.4,686.1 605.0,686.6 603.6,687.1 602.1,687.6 600.7,688.0 599.3,688.5 597.9,689.0 596.4,689.4 595.0,689.9 593.6,690.3 592.1,690.8 590.7,691.2 589.2,691.7 587.8,692.1 586.4,692.6 584.9,693.0 583.5,693.4 582.0,693.8 580.6,694.3 579.1,694.7 577.7,695.1 576.3,695.5 574.8,696.0 573.4,696.4 571.9,696.8 570.5,697.2 569.0,697.6 567.6,698.0 566.1,698.4 564.7,698.9 563.2,699.3 561.8,699.7 560.3,700.1 558.9,700.5 557.4,700.9 556.0,701.3 554.5,701.7 553.1,702.1 551.6,702.5 550.1,702.9 548.7,703.3 547.2,703.7 545.8,704.1 544.3,704.5 542.9,704.9 541.4,705.3 540.0,705.6 538.5,706.0 537.1,706.4 535.6,706.8 534.2,707.2 532.7,707.6 531.3,708.0 529.8,708.4 528.4,708.8 526.9,709.2 525.4,709.5 524.0,709.9 522.5,710.3 521.1,710.7 519.6,711.1 518.2,711.5 516.7,711.9 515.3,712.2 513.8,712.6 512.4,713.0 510.9,713.4 509.5,713.8 508.0,714.2 506.6,714.6 505.1,714.9 503.7,715.3 502.2,715.7 500.8,716.1 499.3,716.5 497.9,716.9 496.4,717.2 495.0,717.6 493.5,718.0 492.1,718.4 490.7,718.8 489.2,719.2 487.8,719.6 486.3,719.9 484.9,720.3 483.4,720.7 482.0,721.1 480.6,721.5 479.1,721.9 477.7,722.3 476.2,722.6 474.8,723.0 473.3,723.4 471.9,723.8 470.5,724.2 469.0,724.6 467.6,725.0 466.1,725.3 464.7,725.7 463.2,726.1 461.8,726.5 460.3,726.9 458.9,727.2 457.4,727.6 456.0,728.0 454.5,728.4 453.0,728.7 451.6,729.1 450.1,729.5 448.6,729.8 447.2,730.2 445.7,730.5 444.2,730.9 442.7,731.3 441.2,731.6 439.7,732.0 438.2,732.3 436.7,732.6 435.2,733.0 433.7,733.3 432.3,733.7 430.8,734.1 429.3,734.4 427.8,734.8 426.3,735.2 424.8,735.6 423.3,736.0 421.9,736.4 420.4,736.8 419.0,737.3 417.5,737.7 416.1,738.2 414.7,738.7 413.3,739.2 411.9,739.7 410.5,740.3 409.1,740.9 407.8,741.5 406.4,742.1 405.1,742.7 403.8,743.4 402.5,744.1 401.2,744.8 400.0,745.6 398.8,746.3 397.6,747.2 396.4,748.0 395.2,748.9 394.0,749.8 392.9,750.7 391.8,751.6 390.7,752.6 389.6,753.6 388.5,754.6 387.5,755.7 386.4,756.7 385.4,757.8 384.4,758.9 383.4,760.0 382.4,761.2 381.4,762.3 380.4,763.5 379.5,764.7 378.5,765.9 377.6,767.1 376.7,768.3 375.7,769.6 374.8,770.8 373.9,772.1 373.0,773.4 372.1,774.6 371.2,775.9 370.4,777.2 369.5,778.5 368.6,779.8 367.7,781.1 366.8,782.4 366.0,783.7 365.1,785.0 364.1,786.2 363.2,787.4 362.3,788.5 361.3,789.7 360.3,790.7 359.2,791.7 358.2,792.7 357.0,793.5 355.9,794.3 354.7,795.1 353.4,795.7 352.1,796.2 350.7,796.6 349.3,797.0 347.9,797.2 346.4,797.4 344.9,797.5 343.4,797.5 341.9,797.4 340.5,797.2 339.0,797.0 337.5,796.8 336.1,796.4 334.6,796.1 333.2,795.7 331.7,795.2 330.3,794.7 328.9,794.2 327.5,793.6 326.0,793.0 324.6,792.4 323.2,791.8 321.8,791.1 320.4,790.5 319.0,789.8 317.5,789.2 316.1,788.5 314.7,787.9 313.3,787.2 311.9,786.6 310.5,786.0 309.0,785.5 307.6,784.9 306.2,784.4 304.7,784.0 303.3,783.5 301.9,783.1 300.4,782.7 299.0,782.3 297.5,782.0 296.1,781.7 294.6,781.3 293.2,781.0 291.7,780.7 290.3,780.5 288.8,780.2 287.3,779.9 285.9,779.6 284.4,779.4 282.9,779.1 281.5,778.8 280.0,778.6 278.5,778.3 277.0,778.1 275.6,777.8 274.1,777.6 272.6,777.4 271.1,777.1 269.6,776.9 268.2,776.7 266.7,776.5 265.2,776.2 263.7,776.0 262.2,775.8 260.7,775.6 259.2,775.4 257.8,775.2 256.3,775.0 254.8,774.7 253.3,774.5 251.8,774.3 250.3,774.1 248.8,773.9 247.3,773.7 245.8,773.5 244.3,773.3 242.8,773.1 241.3,772.9 239.8,772.7 238.3,772.5 236.9,772.3 235.4,772.1 233.9,771.9 232.4,771.7 230.9,771.5 229.4,771.2 227.9,771.0 226.4,770.8 224.9,770.6 223.4,770.4 221.9,770.2 220.4,770.0 218.9,769.8 217.4,769.6 215.9,769.4 214.4,769.2 212.9,769.0 211.4,768.8 210.0,768.6 208.5,768.4 207.0,768.3 205.5,768.1 204.0,767.9 202.5,767.7 201.0,767.6 199.5,767.4 198.0,767.3 196.5,767.1 195.0,767.0 193.5,766.8 192.0,766.7 190.5,766.6 189.0,766.5 187.5,766.4 186.0,766.3 184.5,766.2 183.0,766.1 181.5,766.0 180.0,766.0 178.6,765.9 177.1,765.9 175.6,765.8 174.1,765.8 172.6,765.8 171.1,765.8 169.6,765.8 168.1,765.8 166.6,765.8 165.1,765.9 163.6,765.9 162.1,766.0 160.6,766.1 159.1,766.2 157.6,766.3 156.1,766.4 154.6,766.5 153.1,766.7 151.6,766.8 150.1,767.0 148.6,767.2" fill="none" stroke="#4d8128" stroke-width="3.6" stroke-linecap="round" stroke-linejoin="round"/>
<path d="M147.5,726.6 149.0,726.4 150.5,726.2 152.0,726.1 153.5,725.9 155.0,725.8 156.5,725.6 158.0,725.5 159.5,725.3 161.0,725.2 162.5,725.0 164.0,724.9 165.5,724.8 167.0,724.6 168.5,724.5 170.0,724.4 171.6,724.3 173.1,724.1 174.6,724.0 176.1,723.9 177.6,723.8 179.1,723.7 180.6,723.6 182.1,723.5 183.6,723.4 185.1,723.3 186.6,723.3 188.1,723.2 189.6,723.1 191.1,723.0 192.6,722.9 194.1,722.9 195.6,722.8 197.1,722.7 198.6,722.7 200.1,722.6 201.6,722.5 203.1,722.5 204.6,722.4 206.1,722.4 207.6,722.3 209.1,722.3 210.6,722.2 212.1,722.2 213.6,722.1 215.1,722.1 216.6,722.1 218.1,722.0 219.6,722.0 221.1,721.9 222.6,721.9 224.1,721.9 225.6,721.8 227.1,721.8 228.6,721.8 230.1,721.8 231.6,721.7 233.1,721.7 234.6,721.7 236.1,721.7 237.6,721.6 239.1,721.6 240.6,721.6 242.1,721.6 243.6,721.6 245.2,721.5 246.7,721.5 248.2,721.5 249.7,721.5 251.2,721.5 252.7,721.4 254.2,721.4 255.7,721.4 257.2,721.4 258.7,721.4 260.2,721.4 261.7,721.3 263.2,721.3 264.7,721.3 266.2,721.3 267.7,721.3 269.2,721.2 270.7,721.2 272.2,721.2 273.7,721.2 275.2,721.2 276.7,721.1 278.3,721.1 279.8,721.1 281.3,721.1 282.8,721.0 284.3,721.0 285.8,721.0 287.3,721.0 288.8,720.9 290.3,720.9 291.8,720.9 293.3,720.8 294.8,720.8 296.3,720.8 297.9,720.7 299.4,720.7 300.9,720.6 302.4,720.6 303.9,720.5 305.4,720.5 306.9,720.4 308.4,720.4 309.9,720.3 311.4,720.3 313.0,720.2 314.5,720.2 316.0,720.1 317.5,720.0 319.0,720.0 320.5,719.9 322.0,719.8 323.5,719.8 325.1,719.7 326.6,719.6 328.1,719.5 329.6,719.4 331.1,719.3 332.6,719.3 334.1,719.2 335.7,719.1 337.2,719.0 338.7,718.9 340.2,718.8 341.7,718.6 343.2,718.5 344.8,718.4 346.3,718.3 347.8,718.2 349.3,718.0 350.8,717.9 352.3,717.7 353.8,717.5 355.3,717.3 356.8,717.1 358.3,716.9 359.8,716.6 361.2,716.4 362.7,716.1 364.1,715.7 365.5,715.4 367.0,715.0 368.4,714.6 369.7,714.1 371.1,713.6 372.5,713.1 373.8,712.5 375.1,711.9 376.4,711.2 377.7,710.5 378.9,709.7 380.1,708.9 381.4,708.1 382.5,707.2 383.7,706.2 384.8,705.2 385.9,704.1 387.0,702.9 388.0,701.8 389.1,700.5 390.1,699.3 391.1,698.1 392.0,696.8 393.0,695.6 394.0,694.4 394.9,693.2 395.8,692.0 396.8,690.9 397.7,689.8 398.6,688.6 399.5,687.5 400.4,686.4 401.4,685.3 402.3,684.1 403.2,683.0 404.2,681.9 405.1,680.8 406.2,679.7 407.2,678.6 408.3,677.5 409.4,676.4 410.5,675.3 411.7,674.2 413.0,673.2 414.3,672.1 415.6,671.2 416.9,670.2 418.2,669.4 419.6,668.6 421.0,668.0 422.3,667.4 423.7,667.0 425.1,666.7 426.5,666.5 427.8,666.5 429.2,666.7 430.5,666.9 431.9,667.3 433.2,667.8 434.5,668.4 435.8,669.1 437.1,669.8 438.5,670.6 439.8,671.4 441.1,672.3 442.4,673.1 443.7,674.0 445.0,674.9 446.4,675.7 447.7,676.5 449.1,677.3 450.4,678.0 451.8,678.7 453.1,679.4 454.5,680.1 455.9,680.8 457.3,681.4 458.7,682.0 460.1,682.5 461.5,683.1 462.9,683.6 464.3,684.1 465.7,684.6 467.1,685.1 468.5,685.5 470.0,686.0 471.4,686.4 472.8,686.8 474.3,687.2 475.7,687.6 477.2,688.0 478.6,688.3 480.1,688.7 481.5,689.0 483.0,689.4 484.4,689.7 485.9,690.0 487.3,690.3 488.8,690.6 490.3,690.9 491.7,691.2 493.2,691.5 494.7,691.8 496.1,692.0 497.6,692.3 499.1,692.5 500.6,692.8 502.0,693.0 503.5,693.3 505.0,693.5 506.5,693.7 508.0,693.9 509.5,694.1 511.0,694.3 512.4,694.5 513.9,694.7 515.4,694.9 516.9,695.0 518.4,695.2 519.9,695.4 521.4,695.5 522.9,695.7 524.4,695.8 525.9,696.0 527.4,696.1 528.9,696.2 530.4,696.4 531.9,696.5 533.4,696.6 534.9,696.7 536.4,696.8 537.9,697.0 539.5,697.1 541.0,697.2 542.5,697.3 544.0,697.3 545.5,697.4 547.0,697.5 548.5,697.6 550.0,697.7 551.5,697.8 553.1,697.8 554.6,697.9 556.1,698.0 557.6,698.0 559.1,698.1 560.6,698.2 562.1,698.2 563.7,698.3 565.2,698.3 566.7,698.4 568.2,698.5 569.7,698.5 571.2,698.6 572.7,698.6 574.3,698.7 575.8,698.7 577.3,698.8 578.8,698.8 580.3,698.8 581.8,698.9 583.3,698.9 584.8,699.0 586.3,699.0 587.9,699.1 589.4,699.1 590.9,699.1 592.4,699.2 593.9,699.2 595.4,699.3 596.9,699.3 598.4,699.4 599.9,699.4 601.4,699.4 602.9,699.5 604.4,699.5 606.0,699.5 607.5,699.6 609.0,699.6 610.5,699.7 612.0,699.7 613.5,699.7 615.0,699.8 616.5,699.8 618.0,699.8 619.5,699.9 621.0,699.9 622.5,699.9 624.0,700.0 625.5,700.0 627.0,700.0 628.5,700.0 630.0,700.1 631.5,700.1 633.0,700.1 634.5,700.2 636.0,700.2 637.5,700.2 639.0,700.3 640.5,700.3 642.0,700.3 643.5,700.3 645.0,700.4 646.6,700.4 648.1,700.4 649.6,700.4 651.1,700.5 652.6,700.5 654.1,700.5 655.6,700.5 657.1,700.6 658.6,700.6 660.1,700.6 661.6,700.6 663.1,700.7 664.6,700.7 666.1,700.7 667.6,700.7 669.1,700.8 670.6,700.8 672.1,700.8 673.6,700.8 675.1,700.8 676.6,700.9 678.1,700.9 679.6,700.9 681.1,700.9 682.6,701.0 684.1,701.0 685.6,701.0 687.1,701.0 688.6,701.0 690.1,701.1 691.6,701.1 693.1,701.1 694.6,701.1 696.1,701.1 697.6,701.1 699.1,701.2 700.6,701.2 702.1,701.2 703.6,701.2 705.1,701.2 706.6,701.3 708.1,701.3 709.6,701.3 711.1,701.3 712.6,701.3 714.2,701.3 715.7,701.4 717.2,701.4 718.7,701.4 720.2,701.4 721.7,701.4 723.2,701.4 724.7,701.5 726.2,701.5 727.7,701.5 729.2,701.5 730.7,701.5 732.2,701.5 733.7,701.6 735.3,701.6 736.8,701.6 738.3,701.6 739.8,701.6 741.3,701.6 742.8,701.7 744.3,701.7 745.8,701.7 747.3,701.7 748.9,701.7 750.4,701.7 751.9,701.8 753.4,701.8 754.9,701.8 756.4,701.8 757.9,701.8 759.5,701.8 761.0,701.9 762.5,701.9 764.0,701.9 L764.0,701.9 762.5,702.1 761.0,702.2 759.5,702.4 758.0,702.5 756.5,702.7 755.0,702.8 753.5,703.0 752.0,703.1 750.5,703.2 749.0,703.4 747.5,703.5 746.0,703.6 744.5,703.7 743.0,703.9 741.5,704.0 740.0,704.1 738.5,704.2 737.0,704.3 735.5,704.4 734.0,704.5 732.5,704.6 731.0,704.7 729.5,704.8 728.0,704.9 726.5,705.0 725.0,705.1 723.5,705.2 722.0,705.3 720.5,705.4 719.0,705.4 717.5,705.5 716.0,705.6 714.5,705.7 713.0,705.7 711.5,705.8 710.0,705.9 708.5,705.9 707.0,706.0 705.5,706.1 704.0,706.1 702.5,706.2 701.0,706.2 699.5,706.3 698.0,706.3 696.5,706.4 695.0,706.4 693.5,706.5 692.0,706.5 690.5,706.6 689.0,706.6 687.5,706.7 686.0,706.7 684.5,706.7 683.0,706.8 681.4,706.8 679.9,706.9 678.4,706.9 676.9,706.9 675.4,706.9 673.9,707.0 672.4,707.0 670.9,707.0 669.4,707.1 667.9,707.1 666.4,707.1 664.9,707.1 663.4,707.2 661.9,707.2 660.4,707.2 658.9,707.2 657.4,707.2 655.9,707.3 654.4,707.3 652.9,707.3 651.4,707.3 649.8,707.3 648.3,707.3 646.8,707.4 645.3,707.4 643.8,707.4 642.3,707.4 640.8,707.4 639.3,707.4 637.8,707.4 636.3,707.5 634.8,707.5 633.3,707.5 631.8,707.5 630.3,707.5 628.8,707.5 627.3,707.5 625.8,707.5 624.3,707.6 622.8,707.6 621.2,707.6 619.7,707.6 618.2,707.6 616.7,707.6 615.2,707.6 613.7,707.7 612.2,707.7 610.7,707.7 609.2,707.7 607.7,707.7 606.2,707.7 604.7,707.7 603.2,707.8 601.7,707.8 600.2,707.8 598.7,707.8 597.2,707.8 595.7,707.9 594.2,707.9 592.7,707.9 591.2,707.9 589.7,707.9 588.2,708.0 586.7,708.0 585.1,708.0 583.6,708.0 582.1,708.1 580.6,708.1 579.1,708.1 577.6,708.1 576.1,708.2 574.6,708.2 573.1,708.2 571.6,708.2 570.1,708.3 568.6,708.3 567.1,708.3 565.6,708.3 564.1,708.4 562.6,708.4 561.1,708.4 559.6,708.4 558.1,708.4 556.6,708.5 555.1,708.5 553.6,708.5 552.1,708.5 550.6,708.6 549.1,708.6 547.6,708.6 546.1,708.6 544.6,708.6 543.1,708.7 541.6,708.7 540.0,708.7 538.5,708.7 537.0,708.7 535.5,708.8 534.0,708.8 532.5,708.8 531.0,708.8 529.5,708.8 528.0,708.8 526.5,708.8 525.0,708.9 523.5,708.9 522.0,708.9 520.5,708.9 519.0,708.9 517.5,708.9 516.0,708.9 514.5,708.9 513.0,708.9 511.5,708.9 510.0,708.9 508.5,708.9 507.0,708.9 505.5,708.9 503.9,708.9 502.4,708.9 500.9,708.9 499.4,708.9 497.9,708.9 496.4,708.9 494.9,708.9 493.4,708.8 491.9,708.8 490.4,708.8 488.9,708.8 487.4,708.8 485.9,708.8 484.4,708.7 482.9,708.7 481.4,708.7 479.8,708.7 478.3,708.6 476.8,708.6 475.3,708.6 473.8,708.6 472.3,708.5 470.8,708.5 469.3,708.5 467.8,708.5 466.3,708.5 464.8,708.5 463.3,708.6 461.8,708.6 460.3,708.7 458.8,708.8 457.3,708.9 455.8,709.0 454.3,709.2 452.8,709.3 451.3,709.5 449.8,709.8 448.3,710.0 446.8,710.3 445.3,710.6 443.8,710.9 442.4,711.3 440.9,711.6 439.5,712.1 438.1,712.5 436.7,713.0 435.3,713.5 433.9,714.1 432.5,714.7 431.2,715.3 429.9,715.9 428.6,716.6 427.3,717.3 426.0,718.1 424.8,718.9 423.6,719.8 422.4,720.6 421.2,721.5 420.0,722.5 418.9,723.5 417.8,724.5 416.7,725.6 415.6,726.7 414.5,727.8 413.5,729.0 412.4,730.2 411.4,731.3 410.4,732.6 409.4,733.8 408.4,735.0 407.4,736.2 406.4,737.5 405.4,738.7 404.4,739.9 403.4,741.1 402.3,742.3 401.3,743.4 400.3,744.6 399.2,745.7 398.1,746.7 397.0,747.7 395.9,748.7 394.8,749.7 393.6,750.5 392.4,751.4 391.2,752.1 390.0,752.8 388.7,753.5 387.4,754.0 386.1,754.5 384.7,754.9 383.4,755.3 382.0,755.5 380.6,755.7 379.2,755.7 377.8,755.7 376.3,755.5 374.9,755.3 373.5,755.1 372.0,754.7 370.6,754.3 369.1,753.9 367.7,753.4 366.2,752.9 364.8,752.3 363.3,751.7 361.9,751.1 360.4,750.5 359.0,749.8 357.5,749.2 356.1,748.6 354.7,747.9 353.3,747.3 351.9,746.7 350.5,746.1 349.0,745.6 347.6,745.0 346.2,744.5 344.8,743.9 343.4,743.4 342.0,743.0 340.5,742.5 339.1,742.1 337.7,741.7 336.2,741.4 334.8,741.0 333.3,740.7 331.9,740.4 330.4,740.1 328.9,739.8 327.5,739.6 326.0,739.4 324.5,739.1 323.0,738.9 321.6,738.8 320.1,738.6 318.6,738.4 317.1,738.3 315.6,738.2 314.1,738.0 312.6,737.9 311.1,737.8 309.6,737.7 308.1,737.6 306.6,737.6 305.1,737.5 303.6,737.4 302.1,737.4 300.6,737.3 299.1,737.2 297.6,737.2 296.1,737.1 294.5,737.1 293.0,737.0 291.5,737.0 290.0,736.9 288.5,736.8 287.0,736.8 285.5,736.7 284.0,736.6 282.5,736.6 281.0,736.5 279.5,736.4 278.0,736.3 276.5,736.3 275.0,736.2 273.4,736.1 271.9,736.0 270.4,735.9 268.9,735.8 267.4,735.7 265.9,735.6 264.4,735.5 262.9,735.4 261.4,735.3 259.9,735.2 258.4,735.1 256.9,735.0 255.4,734.9 253.9,734.7 252.4,734.6 250.9,734.5 249.4,734.4 247.9,734.3 246.4,734.2 244.9,734.0 243.4,733.9 241.9,733.8 240.4,733.7 239.0,733.5 237.5,733.4 236.0,733.3 234.5,733.2 233.0,733.0 231.5,732.9 230.0,732.8 228.5,732.6 227.0,732.5 225.5,732.4 224.0,732.2 222.5,732.1 221.0,732.0 219.5,731.8 218.0,731.7 216.5,731.6 215.0,731.5 213.5,731.3 212.0,731.2 210.5,731.1 209.0,730.9 207.5,730.8 206.0,730.7 204.5,730.5 203.0,730.4 201.5,730.3 200.1,730.1 198.6,730.0 197.1,729.9 195.6,729.8 194.1,729.6 192.6,729.5 191.1,729.4 189.6,729.3 188.1,729.2 186.6,729.0 185.1,728.9 183.6,728.8 182.1,728.7 180.6,728.6 179.1,728.5 177.6,728.4 176.1,728.2 174.6,728.1 173.1,728.0 171.6,727.9 170.1,727.8 168.6,727.7 167.1,727.6 165.6,727.5 164.1,727.5 162.6,727.4 161.1,727.3 159.6,727.2 158.0,727.1 156.5,727.0 155.0,726.9 153.5,726.9 152.0,726.8 150.5,726.7 149.0,726.7 147.5,726.6" fill="none" stroke="#00b050" stroke-width="5.6" stroke-linecap="round" stroke-linejoin="round" stroke-dasharray="10.6 11.6"/>
<path d="M147.5,726.6 149.0,726.5 150.5,726.4 152.0,726.3 153.5,726.2 155.0,726.1 156.5,726.0 158.0,725.9 159.5,725.8 161.1,725.7 162.6,725.6 164.1,725.5 165.6,725.5 167.1,725.4 168.6,725.3 170.1,725.2 171.6,725.1 173.1,725.0 174.6,725.0 176.1,724.9 177.6,724.8 179.1,724.7 180.6,724.7 182.1,724.6 183.6,724.5 185.1,724.5 186.6,724.4 188.1,724.3 189.6,724.3 191.1,724.2 192.6,724.1 194.1,724.1 195.6,724.0 197.2,724.0 198.7,723.9 200.2,723.8 201.7,723.8 203.2,723.7 204.7,723.7 206.2,723.6 207.7,723.6 209.2,723.5 210.7,723.5 212.2,723.4 213.7,723.3 215.2,723.3 216.7,723.2 218.2,723.2 219.7,723.1 221.2,723.1 222.7,723.1 224.2,723.0 225.7,723.0 227.2,722.9 228.7,722.9 230.2,722.8 231.7,722.8 233.2,722.7 234.7,722.7 236.2,722.6 237.7,722.6 239.2,722.5 240.7,722.5 242.2,722.5 243.7,722.4 245.3,722.4 246.8,722.3 248.3,722.3 249.8,722.2 251.3,722.2 252.8,722.1 254.3,722.1 255.8,722.0 257.3,722.0 258.8,721.9 260.3,721.9 261.8,721.9 263.3,721.8 264.8,721.8 266.3,721.7 267.8,721.7 269.3,721.6 270.8,721.6 272.3,721.5 273.8,721.5 275.3,721.4 276.8,721.4 278.3,721.3 279.8,721.3 281.4,721.2 282.9,721.1 284.4,721.1 285.9,721.0 287.4,721.0 288.9,720.9 290.4,720.9 291.9,720.8 293.4,720.7 294.9,720.7 296.4,720.6 297.9,720.5 299.4,720.5 300.9,720.4 302.4,720.4 304.0,720.3 305.5,720.2 307.0,720.1 308.5,720.1 310.0,720.0 311.5,719.9 313.0,719.8 314.5,719.8 316.0,719.7 317.5,719.6 319.0,719.5 320.6,719.4 322.1,719.4 323.6,719.3 325.1,719.2 326.6,719.1 328.1,719.0 329.6,718.9 331.1,718.8 332.6,718.7 334.1,718.6 335.7,718.5 337.2,718.4 338.7,718.3 340.2,718.2 341.7,718.0 343.2,717.9 344.7,717.8 346.2,717.6 347.7,717.4 349.2,717.2 350.6,717.0 352.1,716.8 353.6,716.6 355.0,716.3 356.5,716.0 357.9,715.7 359.4,715.4 360.8,715.0 362.2,714.7 363.7,714.3 365.1,713.8 366.5,713.4 367.8,712.9 369.2,712.4 370.6,711.8 371.9,711.3 373.3,710.7 374.6,710.0 375.9,709.3 377.2,708.6 378.5,707.8 379.8,707.0 381.0,706.2 382.3,705.3 383.5,704.4 384.7,703.5 386.0,702.5 387.2,701.6 388.4,700.6 389.6,699.6 390.8,698.6 392.0,697.6 393.2,696.6 394.4,695.5 395.6,694.5 396.8,693.5 398.0,692.5 399.2,691.6 400.4,690.6 401.6,689.7 402.8,688.7 404.1,687.9 405.3,687.0 406.6,686.2 407.9,685.4 409.1,684.7 410.4,684.0 411.8,683.3 413.1,682.7 414.4,682.1 415.8,681.6 417.1,681.1 418.5,680.7 419.9,680.3 421.3,680.0 422.7,679.7 424.1,679.4 425.5,679.3 427.0,679.1 428.4,679.0 429.8,679.0 431.3,679.0 432.7,679.1 434.2,679.2 435.7,679.3 437.1,679.5 438.6,679.7 440.1,680.0 441.5,680.3 443.0,680.6 444.5,680.9 446.0,681.3 447.5,681.6 449.0,682.0 450.4,682.4 451.9,682.8 453.4,683.2 454.9,683.5 456.4,683.9 457.9,684.3 459.4,684.6 460.8,685.0 462.3,685.3 463.8,685.7 465.3,686.0 466.8,686.3 468.3,686.7 469.8,687.0 471.2,687.3 472.7,687.6 474.2,687.9 475.7,688.2 477.2,688.5 478.6,688.8 480.1,689.1 481.6,689.3 483.1,689.6 484.6,689.9 486.1,690.1 487.5,690.4 489.0,690.6 490.5,690.9 492.0,691.1 493.5,691.4 495.0,691.6 496.4,691.8 497.9,692.1 499.4,692.3 500.9,692.5 502.4,692.7 503.9,692.9 505.4,693.1 506.8,693.3 508.3,693.5 509.8,693.7 511.3,693.9 512.8,694.1 514.3,694.3 515.8,694.4 517.3,694.6 518.8,694.8 520.3,695.0 521.7,695.1 523.2,695.3 524.7,695.4 526.2,695.6 527.7,695.8 529.2,695.9 530.7,696.1 532.2,696.2 533.7,696.3 535.2,696.5 536.7,696.6 538.2,696.7 539.7,696.9 541.2,697.0 542.7,697.1 544.2,697.2 545.7,697.3 547.2,697.5 548.7,697.6 550.2,697.7 551.7,697.8 553.2,697.9 554.7,698.0 556.2,698.1 557.7,698.2 559.2,698.3 560.7,698.3 562.2,698.4 563.7,698.5 565.2,698.6 566.7,698.7 568.2,698.8 569.7,698.8 571.2,698.9 572.7,699.0 574.2,699.0 575.7,699.1 577.2,699.2 578.7,699.2 580.2,699.3 581.7,699.3 583.2,699.4 584.7,699.5 586.2,699.5 587.7,699.6 589.2,699.6 590.8,699.7 592.3,699.7 593.8,699.7 595.3,699.8 596.8,699.8 598.3,699.9 599.8,699.9 601.3,699.9 602.8,700.0 604.3,700.0 605.8,700.0 607.3,700.1 608.8,700.1 610.4,700.1 611.9,700.1 613.4,700.2 614.9,700.2 616.4,700.2 617.9,700.2 619.4,700.2 620.9,700.2 622.4,700.3 623.9,700.3 625.4,700.3 627.0,700.3 628.5,700.3 630.0,700.3 631.5,700.3 633.0,700.4 634.5,700.4 636.0,700.4 637.5,700.4 639.0,700.4 640.5,700.4 642.1,700.4 643.6,700.4 645.1,700.4 646.6,700.4 648.1,700.4 649.6,700.4 651.1,700.4 652.6,700.4 654.1,700.4 655.7,700.4 657.2,700.4 658.7,700.4 660.2,700.4 661.7,700.4 663.2,700.4 664.7,700.4 666.2,700.4 667.7,700.4 669.2,700.4 670.8,700.4 672.3,700.4 673.8,700.4 675.3,700.4 676.8,700.4 678.3,700.4 679.8,700.4 681.3,700.4 682.8,700.4 684.3,700.4 685.8,700.4 687.4,700.4 688.9,700.4 690.4,700.4 691.9,700.4 693.4,700.4 694.9,700.4 696.4,700.5 697.9,700.5 699.4,700.5 700.9,700.5 702.4,700.5 703.9,700.5 705.4,700.5 706.9,700.5 708.5,700.5 710.0,700.5 711.5,700.5 713.0,700.6 714.5,700.6 716.0,700.6 717.5,700.6 719.0,700.6 720.5,700.7 722.0,700.7 723.5,700.7 725.0,700.7 726.5,700.7 728.0,700.8 729.5,700.8 731.0,700.8 732.5,700.9 734.0,700.9 735.5,700.9 737.0,701.0 738.5,701.0 740.0,701.0 741.5,701.1 743.0,701.1 744.5,701.2 746.0,701.2 747.5,701.3 749.0,701.3 750.5,701.4 752.0,701.4 753.5,701.5 755.0,701.5 756.5,701.6 758.0,701.6 759.5,701.7 761.0,701.8 762.5,701.8 764.0,701.9 L764.0,701.9 762.5,702.0 761.0,702.2 759.5,702.3 758.0,702.4 756.5,702.6 755.0,702.7 753.5,702.8 752.0,703.0 750.5,703.1 749.0,703.2 747.5,703.3 746.0,703.4 744.5,703.6 743.0,703.7 741.5,703.8 740.0,703.9 738.5,704.0 737.0,704.1 735.5,704.2 734.0,704.3 732.5,704.4 731.0,704.5 729.5,704.6 728.0,704.7 726.5,704.8 725.0,704.9 723.5,705.0 722.0,705.1 720.5,705.1 719.0,705.2 717.5,705.3 716.0,705.4 714.5,705.5 713.0,705.6 711.5,705.6 710.0,705.7 708.5,705.8 707.0,705.8 705.5,705.9 704.0,706.0 702.5,706.1 701.0,706.1 699.5,706.2 697.9,706.2 696.4,706.3 694.9,706.4 693.4,706.4 691.9,706.5 690.4,706.5 688.9,706.6 687.4,706.6 685.9,706.7 684.4,706.7 682.9,706.8 681.4,706.8 679.9,706.9 678.4,706.9 676.9,707.0 675.4,707.0 673.9,707.1 672.4,707.1 670.8,707.1 669.3,707.2 667.8,707.2 666.3,707.3 664.8,707.3 663.3,707.3 661.8,707.4 660.3,707.4 658.8,707.4 657.3,707.4 655.8,707.5 654.3,707.5 652.8,707.5 651.3,707.5 649.8,707.6 648.2,707.6 646.7,707.6 645.2,707.6 643.7,707.7 642.2,707.7 640.7,707.7 639.2,707.7 637.7,707.7 636.2,707.8 634.7,707.8 633.2,707.8 631.7,707.8 630.2,707.8 628.7,707.8 627.2,707.8 625.6,707.9 624.1,707.9 622.6,707.9 621.1,707.9 619.6,707.9 618.1,707.9 616.6,707.9 615.1,707.9 613.6,707.9 612.1,707.9 610.6,707.9 609.1,707.9 607.6,707.9 606.1,707.9 604.6,708.0 603.1,708.0 601.6,708.0 600.0,708.0 598.5,708.0 597.0,708.0 595.5,708.0 594.0,708.0 592.5,708.0 591.0,708.0 589.5,708.0 588.0,708.0 586.5,708.0 585.0,708.0 583.5,708.0 582.0,708.0 580.5,708.0 579.0,708.0 577.5,708.0 576.0,708.0 574.5,708.0 573.0,708.0 571.5,708.0 570.0,708.0 568.5,708.0 567.0,708.0 565.5,708.0 563.9,708.0 562.4,708.0 560.9,708.0 559.4,708.0 557.9,708.0 556.4,708.0 554.9,708.0 553.4,708.0 551.9,708.0 550.4,708.0 548.9,708.0 547.4,708.0 545.9,708.0 544.4,708.0 542.9,708.0 541.4,708.0 539.9,708.0 538.4,708.0 536.9,708.0 535.4,708.0 533.9,708.0 532.4,708.0 530.9,708.0 529.4,708.0 527.9,708.1 526.4,708.1 524.9,708.1 523.3,708.1 521.8,708.1 520.3,708.1 518.8,708.1 517.3,708.1 515.8,708.1 514.3,708.2 512.8,708.2 511.3,708.2 509.8,708.2 508.3,708.2 506.8,708.3 505.3,708.3 503.8,708.3 502.3,708.3 500.8,708.3 499.3,708.4 497.8,708.4 496.3,708.4 494.8,708.5 493.2,708.5 491.7,708.5 490.2,708.5 488.7,708.6 487.2,708.6 485.7,708.7 484.2,708.7 482.7,708.7 481.2,708.8 479.7,708.8 478.2,708.8 476.7,708.9 475.2,708.9 473.7,709.0 472.1,709.0 470.6,709.1 469.1,709.1 467.6,709.2 466.1,709.2 464.6,709.3 463.1,709.3 461.6,709.4 460.1,709.5 458.6,709.5 457.1,709.6 455.6,709.7 454.0,709.7 452.5,709.8 451.0,709.9 449.5,709.9 448.0,710.0 446.5,710.1 445.0,710.2 443.5,710.2 442.0,710.3 440.4,710.4 438.9,710.5 437.4,710.6 435.9,710.7 434.4,710.8 432.9,710.9 431.4,711.1 429.9,711.3 428.5,711.5 427.0,711.7 425.5,712.0 424.1,712.3 422.6,712.6 421.2,713.0 419.8,713.4 418.4,713.9 417.0,714.4 415.7,715.0 414.3,715.6 413.0,716.3 411.7,717.0 410.4,717.8 409.1,718.6 407.9,719.4 406.6,720.3 405.4,721.2 404.2,722.1 403.1,723.1 401.9,724.1 400.8,725.1 399.6,726.2 398.5,727.2 397.4,728.3 396.2,729.4 395.1,730.4 394.0,731.5 392.9,732.6 391.7,733.7 390.6,734.8 389.4,735.8 388.2,736.9 387.0,737.9 385.8,738.9 384.6,739.9 383.4,740.9 382.1,741.8 380.9,742.6 379.6,743.4 378.3,744.2 377.0,744.8 375.6,745.4 374.3,745.9 372.9,746.4 371.6,746.8 370.2,747.1 368.8,747.4 367.4,747.6 366.0,747.8 364.6,747.9 363.1,748.0 361.7,748.0 360.2,748.0 358.8,747.9 357.3,747.8 355.8,747.7 354.4,747.5 352.9,747.3 351.4,747.1 349.9,746.9 348.4,746.6 346.9,746.3 345.4,746.0 343.9,745.7 342.4,745.4 340.9,745.1 339.3,744.8 337.8,744.5 336.3,744.1 334.8,743.8 333.3,743.5 331.8,743.2 330.3,742.9 328.8,742.6 327.3,742.4 325.8,742.1 324.3,741.9 322.8,741.7 321.3,741.4 319.8,741.2 318.3,741.0 316.8,740.9 315.3,740.7 313.8,740.5 312.3,740.4 310.8,740.2 309.3,740.1 307.9,739.9 306.4,739.8 304.9,739.6 303.4,739.5 301.9,739.4 300.4,739.3 298.9,739.1 297.5,739.0 296.0,738.9 294.5,738.8 293.0,738.7 291.5,738.5 290.0,738.4 288.5,738.3 287.0,738.2 285.6,738.0 284.1,737.9 282.6,737.8 281.1,737.7 279.6,737.5 278.1,737.4 276.6,737.3 275.1,737.1 273.6,737.0 272.1,736.9 270.6,736.7 269.1,736.6 267.6,736.5 266.1,736.3 264.6,736.2 263.1,736.1 261.6,735.9 260.1,735.8 258.6,735.7 257.1,735.5 255.6,735.4 254.1,735.3 252.6,735.1 251.1,735.0 249.6,734.8 248.1,734.7 246.6,734.6 245.1,734.4 243.6,734.3 242.1,734.2 240.6,734.0 239.1,733.9 237.6,733.7 236.1,733.6 234.6,733.5 233.1,733.3 231.6,733.2 230.1,733.0 228.6,732.9 227.1,732.8 225.6,732.6 224.1,732.5 222.6,732.4 221.1,732.2 219.6,732.1 218.1,732.0 216.6,731.8 215.1,731.7 213.6,731.6 212.0,731.4 210.5,731.3 209.0,731.2 207.5,731.0 206.0,730.9 204.5,730.8 203.0,730.6 201.5,730.5 200.0,730.4 198.5,730.3 197.0,730.1 195.5,730.0 194.0,729.9 192.5,729.8 191.0,729.6 189.5,729.5 188.0,729.4 186.5,729.3 185.0,729.2 183.5,729.0 182.0,728.9 180.5,728.8 179.0,728.7 177.5,728.6 176.0,728.5 174.5,728.4 173.0,728.2 171.5,728.1 170.0,728.0 168.5,727.9 167.0,727.8 165.5,727.7 164.0,727.6 162.5,727.5 161.0,727.4 159.5,727.3 158.0,727.2 156.5,727.1 155.0,727.0 153.5,726.9 152.0,726.9 150.5,726.8 149.0,726.7 147.5,726.6" fill="none" stroke="#ff0000" stroke-width="6" stroke-linecap="round" stroke-linejoin="round" stroke-dasharray="0 12.4"/>
<line x1="144.7" y1="48.4" x2="184.4" y2="48.4" stroke="#05a9ec" stroke-width="3.8" stroke-linecap="round" stroke-dasharray="7.7 8.1"/>
<line x1="144.8" y1="90.4" x2="185.7" y2="90.4" stroke="#020f55" stroke-width="4" stroke-linecap="round"/>
<line x1="158.9" y1="477" x2="192.2" y2="477" stroke="#00b050" stroke-width="5.6" stroke-linecap="round" stroke-dasharray="10.6 11.6"/>
<line x1="159.2" y1="509.4" x2="197.6" y2="509.4" stroke="#ff0000" stroke-width="6.2" stroke-linecap="round" stroke-dasharray="0 12.8"/>
<line x1="158.8" y1="541.3" x2="200.7" y2="541.3" stroke="#4d8128" stroke-width="3.6" stroke-linecap="round"/>
<g font-family="Liberation Sans, sans-serif" font-weight="bold" fill="#000"><text transform="translate(85.92,18.55) scale(1.050,1)" text-anchor="end" font-size="23.0">200</text>
<text transform="translate(85.92,65.12) scale(1.050,1)" text-anchor="end" font-size="23.0">150</text>
<text transform="translate(85.92,110.69) scale(1.050,1)" text-anchor="end" font-size="23.0">100</text>
<text transform="translate(85.92,156.26) scale(1.050,1)" text-anchor="end" font-size="23.0">50</text>
<text transform="translate(85.92,202.84) scale(1.050,1)" text-anchor="end" font-size="23.0">0</text>
<text transform="translate(85.92,248.41) scale(1.050,1)" text-anchor="end" font-size="23.0">-50</text>
<text transform="translate(85.92,293.98) scale(1.050,1)" text-anchor="end" font-size="23.0">-100</text>
<text transform="translate(85.92,340.55) scale(1.050,1)" text-anchor="end" font-size="23.0">-150</text>
<text transform="translate(110.00,373.55) scale(1.050,1)" text-anchor="middle" font-size="23.0">-0.6</text>
<text transform="translate(272.02,373.55) scale(1.050,1)" text-anchor="middle" font-size="23.0">-0.2</text>
<text transform="translate(434.04,373.55) scale(1.050,1)" text-anchor="middle" font-size="23.0">0.2</text>
<text transform="translate(596.51,373.55) scale(1.050,1)" text-anchor="middle" font-size="23.0">0.6</text>
<text transform="translate(758.53,373.55) scale(1.050,1)" text-anchor="middle" font-size="23.0">1</text>
<text transform="translate(89.40,448.55) scale(1.050,1)" text-anchor="end" font-size="23.0">2500</text>
<text transform="translate(89.40,502.91) scale(1.050,1)" text-anchor="end" font-size="23.0">2000</text>
<text transform="translate(89.40,558.26) scale(1.050,1)" text-anchor="end" font-size="23.0">1500</text>
<text transform="translate(89.40,612.62) scale(1.050,1)" text-anchor="end" font-size="23.0">1000</text>
<text transform="translate(89.40,667.98) scale(1.050,1)" text-anchor="end" font-size="23.0">500</text>
<text transform="translate(89.40,722.34) scale(1.050,1)" text-anchor="end" font-size="23.0">0</text>
<text transform="translate(89.40,777.69) scale(1.050,1)" text-anchor="end" font-size="23.0">-500</text>
<text transform="translate(89.40,832.05) scale(1.050,1)" text-anchor="end" font-size="23.0">-1000</text>
<text transform="translate(113.54,866.55) scale(1.050,1)" text-anchor="middle" font-size="23.0">-0.6</text>
<text transform="translate(275.54,866.55) scale(1.050,1)" text-anchor="middle" font-size="23.0">-0.2</text>
<text transform="translate(437.54,866.55) scale(1.050,1)" text-anchor="middle" font-size="23.0">0.2</text>
<text transform="translate(599.54,866.55) scale(1.050,1)" text-anchor="middle" font-size="23.0">0.6</text>
<text transform="translate(761.09,866.55) scale(1.050,1)" text-anchor="middle" font-size="23.0">1</text>
<text transform="translate(475.52,411.82) scale(1.005,1)" text-anchor="middle" font-size="29.5">Potential (V)</text>
<text transform="translate(478.76,904.07) scale(0.992,1)" text-anchor="middle" font-size="29.5">Potential (V)</text>
<text transform="translate(23.08,171.25) rotate(-90) scale(0.987,1)" text-anchor="middle" font-size="29.5">Current (µA)</text>
<text transform="translate(23.08,630.25) rotate(-90) scale(0.981,1)" text-anchor="middle" font-size="29.5">Current (µA)</text>
<text transform="translate(204.00,56.35) scale(0.915,1)" text-anchor="start" font-size="26.0">Bare C-SPE</text>
<text transform="translate(204.00,98.85) scale(0.966,1)" text-anchor="start" font-size="26.0">MWCNTs SPE</text>
<text transform="translate(218.50,485.35) scale(0.937,1)" text-anchor="start" font-size="26.0">Bare Pt SPE</text>
<text transform="translate(218.50,517.60) scale(0.982,1)" text-anchor="start" font-size="26.0">Bare Pt-SPE Activated</text>
<text transform="translate(218.50,550.60) scale(0.962,1)" text-anchor="start" font-size="26.0">Nanopetals SPE</text></g></svg>
</body></html>
